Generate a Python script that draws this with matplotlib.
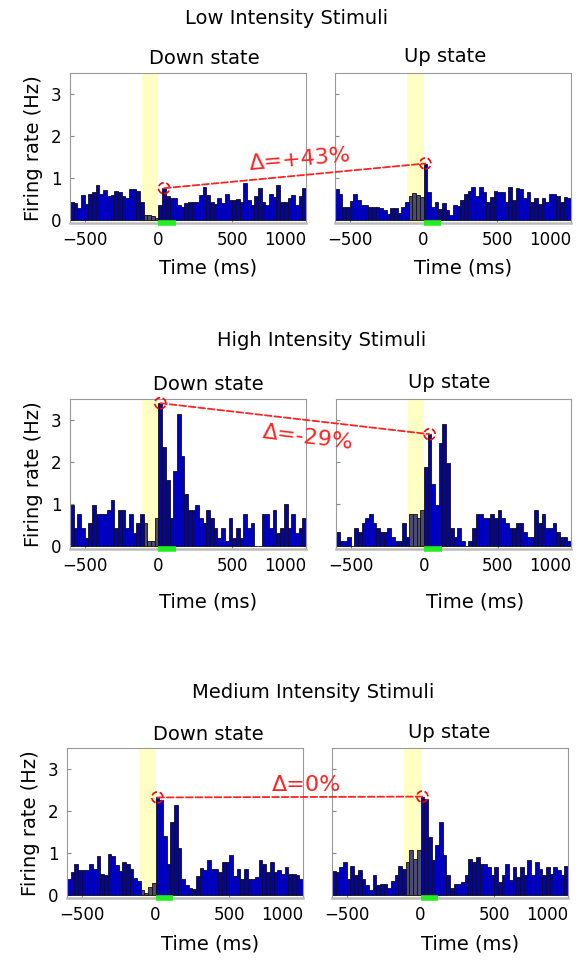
import numpy as np
import matplotlib.pyplot as plt
from matplotlib.patches import ConnectionPatch, Circle
from matplotlib.transforms import ScaledTranslation

# PSTH bins: 25 ms from -600 to 1000 ms
bin_edges = np.arange(-600, 1001, 25)

low_down = [0.41, 0.39, 0.28, 0.59, 0.37, 0.61, 0.67, 0.83, 0.61, 0.71,
            0.57, 0.59, 0.69, 0.67, 0.57, 0.51, 0.73, 0.73, 0.69, 0.43,
            0.12, 0.10, 0.08, 0.05, 0.35, 0.75, 0.57, 0.51, 0.51, 0.35,
            0.31, 0.39, 0.43, 0.42, 0.42, 0.59, 0.79, 0.59, 0.43, 0.38,
            0.51, 0.39, 0.61, 0.47, 0.46, 0.49, 0.43, 0.87, 0.47, 0.35,
            0.57, 0.75, 0.43, 0.35, 0.61, 0.55, 0.83, 0.41, 0.41, 0.51,
            0.59, 0.35, 0.57, 0.75]
low_up = [0.72, 0.61, 0.31, 0.31, 0.45, 0.61, 0.46, 0.35, 0.35, 0.31,
          0.29, 0.31, 0.28, 0.22, 0.13, 0.28, 0.28, 0.17, 0.31, 0.42,
          0.57, 0.63, 0.60, 0.55, 1.34, 0.67, 0.30, 0.41, 0.25, 0.39,
          0.24, 0.10, 0.35, 0.33, 0.47, 0.61, 0.69, 0.79, 0.57, 0.79,
          0.65, 0.41, 0.53, 0.69, 0.65, 0.67, 0.43, 0.77, 0.46, 0.75,
          0.72, 0.51, 0.65, 0.43, 0.51, 0.37, 0.51, 0.41, 0.61, 0.61,
          0.57, 0.43, 0.55, 0.51]
high_down = [0.98, 0.42, 0.76, 0.42, 0.19, 0.54, 0.98, 0.76, 0.76, 0.76,
             0.86, 1.08, 0.42, 0.86, 0.86, 0.42, 0.76, 0.30, 0.54, 0.76,
             0.54, 0.10, 0.10, 0.65, 3.40, 2.35, 1.56, 0.65, 1.77, 3.15,
             2.13, 1.24, 0.86, 0.86, 0.98, 0.65, 0.54, 0.86, 0.65, 0.42,
             0.19, 0.42, 0.10, 0.65, 0.19, 0.42, 0.19, 0.76, 0.42, 0.54,
             0.00, 0.00, 0.76, 0.76, 0.42, 0.86, 0.30, 0.42, 1.00, 0.42,
             0.76, 0.30, 0.42, 0.65]
high_up = [0.33, 0.10, 0.10, 0.20, 0.00, 0.42, 0.33, 0.54, 0.65, 0.76,
           0.54, 0.42, 0.33, 0.33, 0.42, 0.20, 0.10, 0.10, 0.54, 0.20,
           0.76, 0.76, 0.65, 0.86, 1.88, 2.66, 1.46, 0.98, 2.44, 2.90,
           1.98, 0.42, 0.20, 0.42, 0.10, 0.00, 0.10, 0.42, 0.76, 0.76,
           0.65, 0.65, 0.76, 0.65, 0.86, 0.65, 0.54, 0.42, 0.42, 0.54,
           0.54, 0.33, 0.20, 0.20, 0.86, 0.54, 0.76, 0.42, 0.42, 0.54,
           0.33, 0.20, 0.20, 0.10]
med_down = [0.37, 0.53, 0.72, 0.58, 0.58, 0.58, 0.72, 0.62, 0.93, 0.50,
            0.46, 0.96, 0.93, 0.70, 0.56, 0.77, 0.72, 0.62, 0.40, 0.32,
            0.10, 0.05, 0.18, 0.28, 2.32, 2.26, 1.41, 0.74, 1.73, 2.14,
            1.12, 0.38, 0.22, 0.16, 0.14, 0.45, 0.64, 0.58, 0.82, 0.62,
            0.61, 0.54, 0.78, 0.78, 0.94, 0.45, 0.62, 0.38, 0.61, 0.38,
            0.38, 0.42, 0.82, 0.72, 0.53, 0.78, 0.53, 0.58, 0.50, 0.66,
            0.50, 0.50, 0.46, 0.37]
med_up = [0.56, 0.53, 0.66, 0.77, 0.37, 0.69, 0.48, 0.58, 0.37, 0.24,
          0.10, 0.46, 0.22, 0.26, 0.26, 0.16, 0.32, 0.46, 0.69, 0.61,
          0.78, 1.06, 0.85, 1.06, 2.34, 2.29, 1.38, 0.82, 1.18, 1.73,
          0.94, 0.48, 0.16, 0.26, 0.26, 0.29, 0.46, 0.85, 0.77, 0.90,
          0.72, 0.72, 0.66, 0.48, 0.66, 0.29, 0.48, 0.74, 0.34, 0.66,
          0.42, 0.66, 0.46, 0.82, 0.46, 0.77, 0.62, 0.46, 0.66, 0.50,
          0.66, 0.58, 0.46, 0.69]

row_titles = ['Low Intensity Stimuli', 'High Intensity Stimuli', 'Medium Intensity Stimuli']
deltas = ['Δ=+43%', 'Δ=-29%', 'Δ=0%']
rows = [(low_down, low_up), (high_down, high_up), (med_down, med_up)]
# bin index of the compared peak in (down, up)
peak_bins = [(25, 24), (24, 25), (24, 24)]

W, H = 580, 960
fig = plt.figure(figsize=(W / 100, H / 100), dpi=100)


def px_rect(x0, y0, x1, y1):
    return [x0 / W, 1 - y1 / H, (x1 - x0) / W, (y1 - y0) / H]


# axes boxes in pixels (left, top, right, bottom)
boxes = [
    [(70, 73, 306, 223), (335, 73, 571, 223)],
    [(70, 399, 306, 549), (336, 399, 571, 549)],
    [(67, 748, 303, 898), (332, 748, 568, 898)],
]
suptitle_pos = [(287, 18), (322, 341), (313, 693)]
title_pos = [[(204, 58), (445, 56)], [(208, 384), (449, 382)], [(208, 735), (449, 733)]]
xlabel_pos = [[(208, 268), (463, 268)], [(208, 602), (475, 602)], [(210, 944), (470, 944)]]
delta_pos = [(300, 160, 5), (308, 438, -7), (307, 785, 0)]

centers = (bin_edges[:-1] + bin_edges[1:]) / 2
# bars inside the pre-stimulus window look greyed out
bar_colors = np.where((centers > -110) & (centers < 0), '#4c4c72', '#0000c0')

for r, (down, up) in enumerate(rows):
    axes = []
    for c, vals in enumerate((down, up)):
        ax = fig.add_axes(px_rect(*boxes[r][c]))
        ax.axvspan(-110, 0, color='#ffffc4', lw=0, zorder=1)
        ax.bar(bin_edges[:-1], vals, width=25, align='edge', color=bar_colors,
               edgecolor='#101010', linewidth=0.6, zorder=2)
        ax.plot([0, 120], [0, 0], color='#22ee22', lw=4, solid_capstyle='butt',
                transform=ax.get_xaxis_transform(), clip_on=False, zorder=5)
        ax.set_xlim(-600, 1000)
        ax.set_ylim(-0.08, 3.5)
        ax.set_xticks([-500, 0, 500, 1000])
        ax.set_yticks([0, 1, 2, 3])
        ax.tick_params(direction='in', length=3, color='#888888', labelsize=12, pad=6)
        ax.get_xticklabels()[-1].set_horizontalalignment('right')
        for s in ax.spines.values():
            s.set_color('#999999')
        ax.spines['bottom'].set_linewidth(1.8)
        ax.spines['bottom'].set_color('#bbbbbb')
        if c == 0:
            ax.set_ylabel('Firing rate (Hz)', fontsize=14, labelpad=6)
        else:
            ax.set_yticklabels([])
        tx, ty = title_pos[r][c]
        fig.text(tx / W, 1 - ty / H, 'Down state' if c == 0 else 'Up state',
                 fontsize=14, ha='center', va='center')
        lx, ly = xlabel_pos[r][c]
        fig.text(lx / W, 1 - ly / H, 'Time (ms)', fontsize=14, ha='center', va='center')
        axes.append(ax)

    # dashed circles on the compared peaks and the line between them
    pts = []
    for c, ax in enumerate(axes):
        b = peak_bins[r][c]
        x, y = centers[b], rows[r][c][b]
        pts.append((x, y))
        trans = fig.dpi_scale_trans + ScaledTranslation(x, y, ax.transData)
        ax.add_patch(Circle((0, 0), radius=0.055, transform=trans, fill=False,
                            edgecolor='red', ls='--', lw=1.2, clip_on=False, zorder=6))
    con = ConnectionPatch(xyA=pts[0], coordsA='data', axesA=axes[0],
                          xyB=pts[1], coordsB='data', axesB=axes[1],
                          color='#ff2222', ls='--', lw=1.3, zorder=6)
    fig.add_artist(con)
    dx, dy, rot = delta_pos[r]
    fig.text(dx / W, 1 - dy / H, deltas[r], color='#ff2222', fontsize=16,
             ha='center', va='center', rotation=rot)

    sx, sy = suptitle_pos[r]
    fig.text(sx / W, 1 - sy / H, row_titles[r], fontsize=14, ha='center', va='center')

fig.savefig('out.png', dpi=100)
